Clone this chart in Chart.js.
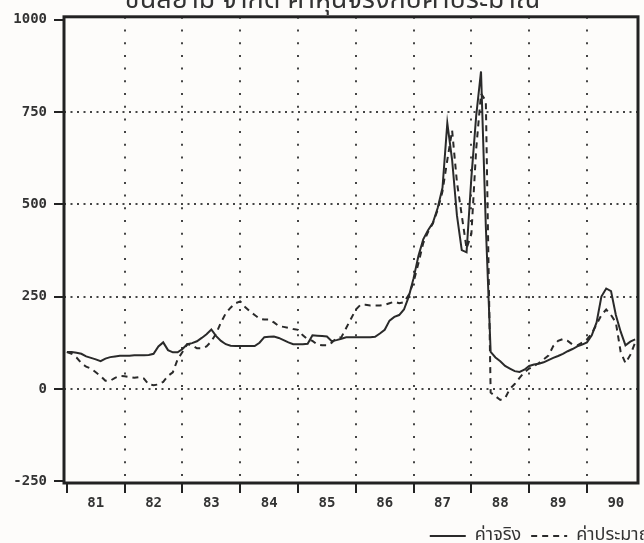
<!DOCTYPE html>
<html>
<head>
<meta charset="utf-8">
<script src="https://cdn.jsdelivr.net/npm/chart.js@4.4.1/dist/chart.umd.min.js"></script>
<style>
  html, body { margin: 0; padding: 0; background: #fdfcfa; overflow: hidden; }
  #wrap { position: relative; width: 644px; height: 543px; overflow: hidden; }
  #stock { position: absolute; left: 0; top: -12px; }
</style>
</head>
<body>
<div id="wrap"><canvas id="stock" width="665" height="567"></canvas></div>
<script>
var chartTitle = 'ชินสยาม จำกัด ค่าหุ้นจริงกับค่าประมาณ';
var yearLabels = ['81', '82', '83', '84', '85', '86', '87', '88', '89', '90'];
var yTicks = [-250, 0, 250, 500, 750, 1000];

// monthly values, Jan 81 .. Nov 90
var actual = [
  100, 100, 98, 95, 88, 84, 80, 75, 82, 86, 88, 90,
  90, 90, 91, 91, 91, 92, 95, 115, 126, 105, 99, 99,
  108, 121, 124, 129, 138, 148, 161, 143, 130, 121, 117, 116,
  116, 116, 116, 116, 125, 140, 141, 142, 138, 132, 126, 121,
  121, 121, 122, 145, 144, 143, 142, 129, 132, 136, 140, 140,
  140, 140, 140, 140, 141, 150, 160, 185, 195, 200, 215, 250,
  300, 360, 405, 430, 450, 490, 545, 720, 620, 470, 376, 370,
  573, 740, 860, 440, 100, 85, 75, 62, 55, 48, 46, 52,
  62, 66, 68, 72, 78, 84, 89, 95, 102, 108, 115, 120,
  126, 145, 180, 250, 272, 265, 200, 155, 118, 128, 134
];
var estimate = [
  100, 95, 85, 70, 60, 55, 45, 35, 22, 22, 30, 35,
  34, 32, 30, 32, 28, 12, 10, 12, 19, 35, 45, 80,
  100, 121, 118, 110, 110, 115, 129, 150, 180, 205, 220, 232,
  237, 222, 210, 200, 190, 188, 188, 180, 170, 168, 165, 162,
  160, 145, 134, 130, 120, 118, 118, 125, 138, 140, 165, 190,
  215, 228, 228, 226, 226, 226, 228, 232, 236, 232, 235, 255,
  290, 340, 395, 425, 448, 485, 535, 620, 700, 560, 470, 380,
  420, 650, 800, 780, -10, -20, -30, -25, 0, 13, 30, 45,
  55, 62, 70, 80, 90, 116, 130, 135, 130, 120, 118, 125,
  134, 150, 175, 200, 215, 200, 180, 100, 70, 92, 125
];

var monthIdx = [];
for (var i = 0; i < actual.length; i++) monthIdx.push(i);

var thaiFont = '"Noto Sans Thai", "Loma", "Garuda", "Norasi", "Noto Sans", sans-serif';
var tickFont = { family: '"DejaVu Sans Mono", monospace', size: 14, weight: 'bold' };
var ink = '#2a2a2a';

var framePlugin = {
  id: 'frame',
  afterDatasetsDraw: function(chart) {
    var a = chart.chartArea;
    var c = chart.ctx;
    c.save();
    c.strokeStyle = '#222';
    c.lineWidth = 3;
    c.strokeRect(a.left, a.top, a.right - a.left, a.bottom - a.top);
    c.restore();
  }
};

var ctx = document.getElementById('stock');
var stockChart = new Chart(ctx, {
  type: 'line',
  data: {
    labels: monthIdx,
    datasets: [
      {
        label: 'ค่าจริง',
        data: actual,
        borderColor: ink,
        borderWidth: 2,
        pointRadius: 0,
        tension: 0,
        fill: false
      },
      {
        label: 'ค่าประมาณ',
        data: estimate,
        borderColor: ink,
        borderWidth: 2,
        borderDash: [6, 5],
        pointRadius: 0,
        tension: 0,
        fill: false
      }
    ]
  },
  options: {
    responsive: false,
    animation: false,
    devicePixelRatio: 1,
    layout: { padding: 0 },
    plugins: {
      title: {
        display: true,
        text: chartTitle,
        color: '#333',
        font: { family: thaiFont, size: 27, weight: 'normal', lineHeight: 1.0667 },
        padding: 0
      },
      legend: {
        position: 'bottom',
        align: 'end',
        labels: {
          color: '#333',
          font: { family: thaiFont, size: 18 },
          usePointStyle: true,
          pointStyle: 'line',
          pointStyleWidth: 36,
          padding: 10,
          generateLabels: function(chart) {
            var items = Chart.defaults.plugins.legend.labels.generateLabels(chart);
            items.forEach(function(it) {
              var ds = chart.data.datasets[it.datasetIndex];
              it.lineDash = ds.borderDash || [];
              it.lineWidth = 2;
              it.strokeStyle = ink;
            });
            return items;
          }
        }
      },
      tooltip: { enabled: false }
    },
    scales: {
      x: {
        type: 'linear',
        min: -0.6,
        max: 118.6,
        afterBuildTicks: function(scale) {
          var t = [];
          for (var k = 0; k < yearLabels.length; k++) {
            t.push({ value: k * 12 });
            t.push({ value: k * 12 + 6 });
          }
          scale.ticks = t;
        },
        afterFit: function(scale) { scale.height = 34; },
        ticks: {
          autoSkip: false,
          maxRotation: 0,
          padding: 2,
          color: '#333',
          font: tickFont,
          callback: function(value) {
            if (value % 12 === 6) return yearLabels[(value - 6) / 12];
            return '';
          }
        },
        grid: {
          lineWidth: 2,
          color: function(c) {
            var v = c.tick ? c.tick.value : 0;
            return (v % 12 === 0 && v !== 0) ? '#444' : 'rgba(0,0,0,0)';
          },
          tickColor: function(c) {
            var v = c.tick ? c.tick.value : 0;
            return v % 12 === 0 ? '#222' : 'rgba(0,0,0,0)';
          },
          tickLength: 10
        },
        border: { display: false, dash: [2, 10.7] }
      },
      y: {
        min: -255,
        max: 1008,
        afterBuildTicks: function(scale) {
          scale.ticks = yTicks.map(function(v) { return { value: v }; });
        },
        afterFit: function(scale) { scale.width = 64; },
        ticks: {
          padding: 7,
          color: '#333',
          font: tickFont,
          callback: function(value) { return String(value); }
        },
        grid: {
          lineWidth: 2,
          color: function(c) {
            var v = c.tick ? c.tick.value : 0;
            return (v === -250 || v === 1000) ? 'rgba(0,0,0,0)' : '#444';
          },
          tickColor: '#222',
          tickLength: 10
        },
        border: { display: false, dash: [2, 4.5] }
      },
      yRight: {
        type: 'linear',
        position: 'right',
        afterFit: function(scale) { scale.width = 27; },
        ticks: { display: false },
        grid: { display: false },
        border: { display: false }
      }
    }
  },
  plugins: [framePlugin]
});
</script>
</body>
</html>
